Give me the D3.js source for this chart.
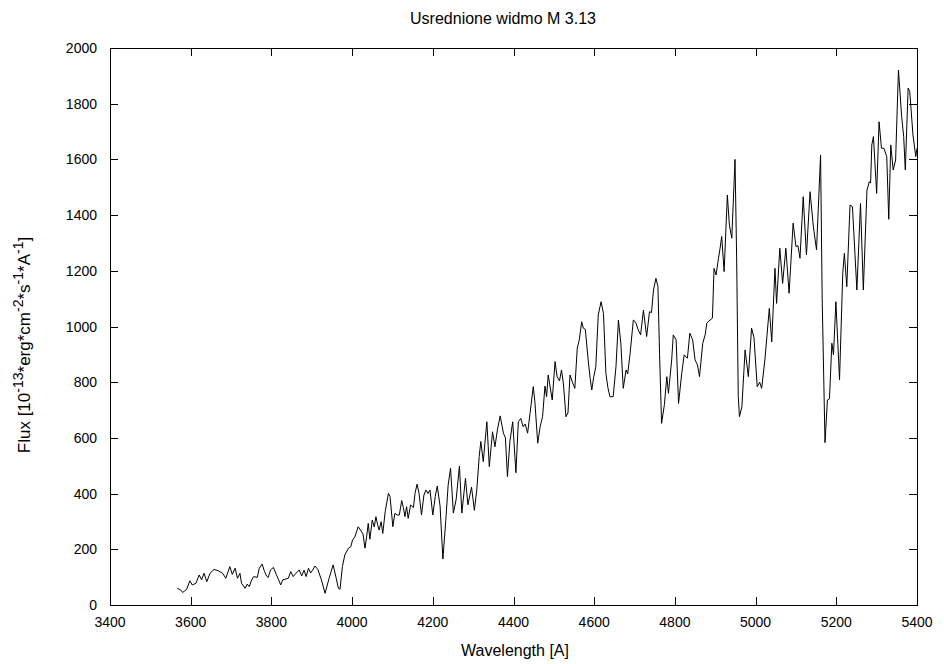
<!DOCTYPE html>
<html><head><meta charset="utf-8">
<script src="https://cdn.jsdelivr.net/npm/d3@7"></script>
<style>body{margin:0;background:#fff}svg{display:block}text{font-family:"Liberation Sans",Arial,sans-serif;fill:#000}</style>
</head><body><svg id="c" width="944" height="664"></svg>
<script>
const wavelength = [3567,3575,3580,3590,3598,3604,3613,3621,3627,3633,3640,3648,3658,3668,3679,3687,3697,3703,3710,3716,3722,3726,3735,3740,3745,3751,3756,3765,3770,3777,3783,3788,3792,3798,3805,3812,3818,3823,3828,3842,3848,3854,3861,3869,3875,3881,3886,3892,3897,3902,3908,3915,3924,3933,3943,3953,3960,3966,3970,3976,3982,3991,3997,4001,4007,4011,4015,4021,4027,4032,4036,4040,4044,4050,4055,4059,4063,4067,4072,4076,4082,4090,4094,4101,4106,4112,4117,4123,4127,4131,4135,4139,4145,4152,4156,4161,4166,4172,4178,4183,4188,4193,4200,4206,4211,4218,4225,4232,4238,4244,4251,4258,4266,4272,4281,4287,4296,4303,4309,4315,4319,4325,4334,4340,4348,4354,4360,4367,4375,4380,4385,4391,4398,4406,4412,4418,4424,4429,4435,4441,4449,4453,4460,4466,4472,4478,4482,4486,4496,4503,4508,4514,4519,4524,4530,4535,4540,4546,4552,4558,4563,4569,4573,4578,4585,4590,4594,4599,4604,4610,4617,4623,4629,4634,4639,4647,4654,4660,4666,4672,4679,4683,4689,4697,4703,4709,4715,4722,4730,4737,4742,4747,4753,4758,4762,4767,4774,4780,4784,4792,4796,4803,4809,4817,4823,4831,4837,4844,4850,4856,4861,4869,4875,4879,4887,4893,4897,4902,4908,4912,4916,4922,4930,4935,4941,4949,4953,4957,4960,4966,4974,4982,4990,4996,5004,5010,5015,5023,5034,5040,5048,5052,5060,5067,5075,5083,5093,5100,5105,5110,5118,5126,5135,5143,5151,5161,5165,5172,5178,5183,5189,5193,5199,5208,5216,5220,5226,5234,5240,5251,5260,5267,5276,5282,5285,5288,5292,5300,5306,5312,5318,5325,5330,5335,5341,5347,5354,5362,5367,5371,5378,5382,5390,5397,5400];
const flux = [60,54,45,56,87,72,78,108,90,114,84,114,128,123,114,96,138,110,132,96,114,78,60,75,66,90,102,99,132,147,120,104,99,126,135,110,90,72,90,96,120,102,114,126,104,125,102,132,115,125,140,128,90,42,96,144,100,60,56,138,180,204,210,233,245,263,281,269,255,204,245,293,236,305,280,317,290,269,299,257,335,401,390,281,329,323,323,375,350,317,353,311,359,350,401,434,400,323,395,413,400,413,323,389,427,356,165,300,430,491,330,380,499,330,455,360,423,340,413,533,587,515,658,497,622,568,628,679,617,600,461,587,658,475,658,670,640,650,617,688,784,730,581,640,676,786,748,826,736,874,820,805,844,790,676,690,826,800,778,922,952,1017,994,990,880,814,772,820,856,1041,1089,1047,832,780,748,748,856,1023,940,778,844,830,904,1023,1015,988,970,1059,964,1053,1050,1131,1173,1143,900,652,720,820,760,880,970,952,724,832,898,886,976,952,880,862,820,940,970,1012,1023,1030,1209,1185,1245,1281,1323,1197,1472,1365,1317,1600,1250,750,676,712,916,820,994,960,784,800,778,880,1065,945,1209,1083,1281,1155,1281,1119,1371,1287,1290,1245,1466,1257,1484,1360,1275,1616,1100,583,736,740,940,898,1089,808,1191,1263,1143,1436,1430,1131,1442,1131,1490,1520,1515,1652,1682,1478,1735,1640,1640,1610,1385,1652,1562,1598,1921,1754,1682,1562,1856,1844,1688,1610,1640];
const xTicks = [3400,3600,3800,4000,4200,4400,4600,4800,5000,5200,5400];
const yTicks = [0,200,400,600,800,1000,1200,1400,1600,1800,2000];
const titleText = "Usrednione widmo M 3.13";
const xLabel = "Wavelength [A]";
const yLabelParts = [["Flux [10",0],["-13",1],["*erg*cm",0],["-2",1],["*s",0],["-1",1],["*A",0],["-1",1],["]",0]];

const L=110,R=917,T=48,B=605,TL=8;
const svg=d3.select("#c");
const x=d3.scaleLinear().domain([3400,5400]).range([L,R]);
const y=d3.scaleLinear().domain([0,2000]).range([B,T]);
const tickG=svg.append("g").attr("stroke","#000").attr("stroke-width",1).attr("shape-rendering","crispEdges");
xTicks.forEach(v=>{
  const px=Math.round(x(v))+0.5;
  tickG.append("line").attr("x1",px).attr("x2",px).attr("y1",B).attr("y2",B-TL);
  tickG.append("line").attr("x1",px).attr("x2",px).attr("y1",T).attr("y2",T+TL);
  svg.append("text").attr("x",x(v)).attr("y",B+22).attr("text-anchor","middle").attr("font-size",14).text(v);
});
yTicks.forEach(v=>{
  const py=Math.round(y(v))+0.5;
  tickG.append("line").attr("x1",L).attr("x2",L+TL).attr("y1",py).attr("y2",py);
  tickG.append("line").attr("x1",R).attr("x2",R-TL).attr("y1",py).attr("y2",py);
  svg.append("text").attr("x",L-13).attr("y",y(v)+5).attr("text-anchor","end").attr("font-size",14).text(v);
});
svg.append("rect").attr("x",L+0.5).attr("y",T+0.5).attr("width",R-L).attr("height",B-T)
  .attr("fill","none").attr("stroke","#000").attr("stroke-width",1).attr("shape-rendering","crispEdges");
const line=d3.line().x((d,i)=>x(wavelength[i])).y(d=>y(d));
svg.append("path").datum(flux).attr("d",line).attr("fill","none").attr("stroke","#000").attr("stroke-width",1);
svg.append("text").attr("x",503).attr("y",24).attr("text-anchor","middle").attr("font-size",16).text(titleText);
svg.append("text").attr("x",515).attr("y",656).attr("text-anchor","middle").attr("font-size",16).text(xLabel);
const yl=svg.append("text").attr("transform","translate(30,345) rotate(-90)").attr("text-anchor","middle").attr("font-size",17);
let prevSup=false;
yLabelParts.forEach(p=>{
  const dy = p[1] ? (prevSup?0:-7) : (prevSup?7:0);
  yl.append("tspan").attr("dy",dy).attr("font-size",p[1]?14:17).text(p[0]);
  prevSup=!!p[1];
});
</script></body></html>
